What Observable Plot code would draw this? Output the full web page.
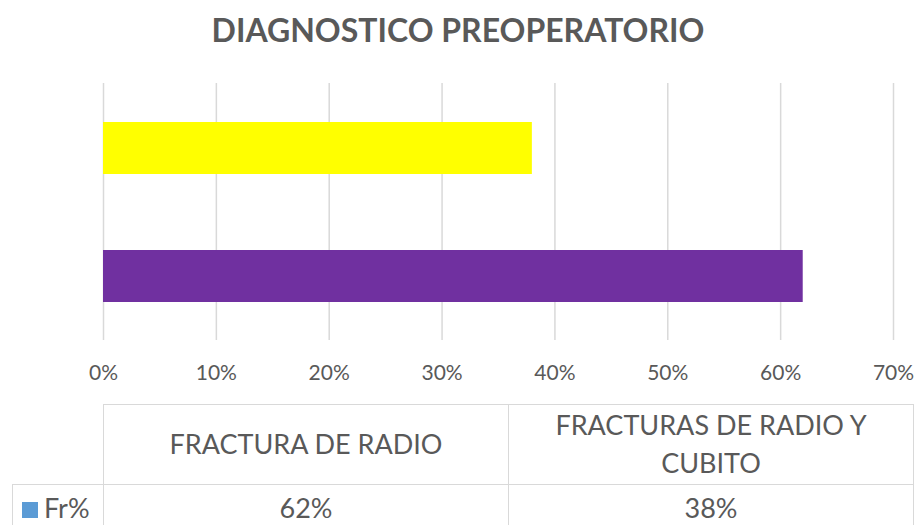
<!DOCTYPE html>
<html>
<head>
<meta charset="utf-8">
<script src="https://cdn.jsdelivr.net/npm/d3@7"></script>
<script src="https://cdn.jsdelivr.net/npm/@observablehq/plot@0.6"></script>
<style>
  html, body { margin: 0; padding: 0; background: #fff; }
  body { width: 916px; height: 525px; overflow: hidden; position: relative; font-family: Lato, "Open Sans", sans-serif; color: #595959; }
  #title { height: 70px; line-height: 60px; text-align: center; font-weight: bold; font-size: 32px; color: #595959; }
  #chart svg { display: block; }
  #tbl { position: absolute; left: 12px; top: 404px; border-collapse: collapse; table-layout: fixed; font-size: 27px; color: #595959; }
  #tbl td { border: 1.5px solid #d9d9d9; text-align: center; vertical-align: middle; padding: 0; }
  #tbl td.blank { border-top: none; border-left: none; }
  .sw { display: inline-block; width: 16px; height: 16px; margin-right: 6px; vertical-align: 0px; }
</style>
</head>
<body>
<div id="title"></div>
<div id="chart"></div>
<table id="tbl"></table>
<script>
const title = "DIAGNOSTICO PREOPERATORIO";
const categories = ["FRACTURA DE RADIO", "FRACTURAS DE RADIO Y CUBITO"];
const values = [0.62, 0.38];
const barColors = ["#7030A0", "#FFFF00"];
const seriesName = "Fr%";
const seriesColor = "#5B9BD5";
const xTicks = [0, 0.1, 0.2, 0.3, 0.4, 0.5, 0.6, 0.7];

const fmt = d => Math.round(d * 100) + "%";
const data = categories.map((c, i) => ({category: c, value: values[i]}));

document.getElementById("title").textContent = title;

const chart = Plot.plot({
  width: 916,
  height: 330,
  marginLeft: 103,
  marginRight: 23,
  marginTop: 13,
  marginBottom: 60,
  style: {fontFamily: "Lato, 'Open Sans', sans-serif", color: "#595959", background: "#fff"},
  x: {domain: [0, 0.7], axis: null, label: null},
  y: {domain: [categories[1], categories[0]], paddingInner: 0.597, paddingOuter: 0.2985, axis: null, label: null},
  color: {domain: categories, range: barColors},
  marks: [
    Plot.gridX(xTicks, {stroke: "#d9d9d9", strokeOpacity: 1, strokeWidth: 1.5}),
    Plot.axisX(xTicks, {tickSize: 0, tickPadding: 25, tickFormat: fmt, fontSize: 21, fill: "#595959", label: null}),
    Plot.barX(data, {x: "value", y: "category", fill: "category"})
  ]
});
document.getElementById("chart").appendChild(chart);

// data table below the chart
const tbl = document.getElementById("tbl");
const cg = document.createElement("colgroup");
[91, 405, 405].forEach(w => { const c = document.createElement("col"); c.style.width = w + "px"; cg.appendChild(c); });
tbl.appendChild(cg);
const r1 = document.createElement("tr");
r1.style.height = "80px";
const b = document.createElement("td"); b.className = "blank"; r1.appendChild(b);
categories.forEach(c => {
  const td = document.createElement("td");
  td.style.lineHeight = "38px";
  td.style.padding = "0 40px 2px 40px";
  td.textContent = c;
  r1.appendChild(td);
});
tbl.appendChild(r1);
const r2 = document.createElement("tr");
r2.style.height = "46px";
const lt = document.createElement("td");
lt.style.textAlign = "left";
lt.style.paddingLeft = "9px";
const sw = document.createElement("span"); sw.className = "sw"; sw.style.background = seriesColor;
lt.appendChild(sw);
lt.appendChild(document.createTextNode(seriesName));
r2.appendChild(lt);
values.forEach(v => { const td = document.createElement("td"); td.textContent = fmt(v); r2.appendChild(td); });
tbl.appendChild(r2);
</script>
</body>
</html>
